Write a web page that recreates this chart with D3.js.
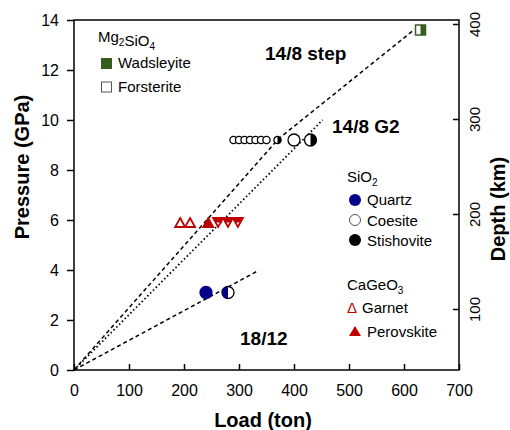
<!DOCTYPE html>
<html lang="en">
<head>
<meta charset="utf-8">
<title>pressure_load</title>
<script src="https://d3js.org/d3.v7.min.js"></script>
<style>
  body { margin: 0; background: #fff; }
  svg text { font-family: Arial, "Liberation Sans", sans-serif; fill: #000; }
  .tick text { font-size: 16px; }
  .axis-title { font-size: 20px; font-weight: bold; }
  .cell-label { font-size: 19px; font-weight: bold; }
  .legend { font-size: 15px; }
</style>
</head>
<body>
<div id="chart"></div>
<script>
// ---- data ----
var xTicks = [0, 100, 200, 300, 400, 500, 600, 700];
var yTicks = [0, 2, 4, 6, 8, 10, 12, 14];
var depthTicks = [100, 200, 300, 400];

// calibration curves [load, pressure]
var step148 = [[0, 0], [372, 9.25], [615, 13.55]];
var g2148 = [[0, 0], [452, 10.0]];
var cell1812 = [[0, 0], [333, 3.95]];

// Mg2SiO4
var wadsleyite = [[630, 13.6]];          // forsterite -> wadsleyite, half filled

// SiO2
var coesiteSmall = [[290, 9.2], [300, 9.2], [310, 9.2], [320, 9.2], [330, 9.2], [340, 9.2], [350, 9.2]];
var coeStiSmall = [[370, 9.2]];
var coesiteBig = [[400, 9.2]];
var coeStiBig = [[430, 9.2]];
var quartz = [[240, 3.1]];
var quaCoe = [[280, 3.1]];

// CaGeO3
var garnet = [[193, 5.9], [211, 5.9]];
var perovskite = [[244, 5.9]];
var garPv = [[262, 5.9], [280, 5.9], [298, 5.9]];

var W = 510, H = 430;
var svg = d3.select("#chart").append("svg").attr("width", W).attr("height", H);

var x = d3.scaleLinear().domain([0, 700]).range([74, 459]);
var y = d3.scaleLinear().domain([0, 14]).range([370, 20]);
var depth = d3.scaleLinear().domain([35.8, 404.2]).range([370, 20]);

var red = "#c00000", blue = "#00008b", green = "#375e1f";

// frame
svg.append("rect")
  .attr("x", x(0)).attr("y", y(14))
  .attr("width", x(700) - x(0)).attr("height", y(0) - y(14))
  .attr("fill", "none").attr("stroke", "#000").attr("stroke-width", 1.5);

// axes
svg.append("g")
  .attr("transform", "translate(" + x(0) + ",0)")
  .call(d3.axisLeft(y).tickValues(yTicks).tickSizeInner(7).tickSizeOuter(0).tickPadding(8))
  .call(function(g) { g.select(".domain").remove(); });

svg.append("g")
  .attr("transform", "translate(0," + y(0) + ")")
  .call(d3.axisBottom(x).tickValues(xTicks).tickSizeInner(-6).tickSizeOuter(0).tickPadding(15))
  .call(function(g) { g.select(".domain").remove(); });

var right = svg.append("g")
  .attr("transform", "translate(" + x(700) + ",0)")
  .call(d3.axisRight(depth).tickValues(depthTicks).tickSizeInner(-6).tickSizeOuter(0))
  .call(function(g) { g.select(".domain").remove(); });
right.selectAll(".tick text")
  .attr("transform", "rotate(-90)")
  .attr("x", 0).attr("y", 21).attr("dy", 0)
  .attr("text-anchor", "middle")
  .style("font-size", "15px");

svg.selectAll(".tick line").attr("stroke", "#000").attr("stroke-width", 1.5);
svg.selectAll(".tick text").attr("fill", "#000");

// axis titles
svg.append("text").attr("class", "axis-title")
  .attr("x", 263).attr("y", 427).attr("text-anchor", "middle").text("Load (ton)");
svg.append("text").attr("class", "axis-title")
  .attr("transform", "translate(29,167) rotate(-90)").attr("text-anchor", "middle").text("Pressure (GPa)");
svg.append("text").attr("class", "axis-title")
  .attr("transform", "translate(505,209) rotate(-90)").attr("text-anchor", "middle").text("Depth (km)");

// curves
var line = d3.line().x(function(d) { return x(d[0]); }).y(function(d) { return y(d[1]); });
svg.append("path").attr("d", line(step148)).attr("fill", "none")
  .attr("stroke", "#000").attr("stroke-width", 1.5).attr("stroke-dasharray", "4,3");
svg.append("path").attr("d", line(g2148)).attr("fill", "none")
  .attr("stroke", "#000").attr("stroke-width", 1.8).attr("stroke-dasharray", "1.5,2.5");
svg.append("path").attr("d", line(cell1812)).attr("fill", "none")
  .attr("stroke", "#000").attr("stroke-width", 1.5).attr("stroke-dasharray", "4,3");

svg.append("text").attr("class", "cell-label").attr("x", 265).attr("y", 60).text("14/8 step");
svg.append("text").attr("class", "cell-label").attr("x", 332).attr("y", 133).text("14/8 G2");
svg.append("text").attr("class", "cell-label").attr("x", 240).attr("y", 345).text("18/12");

// marker helpers
var halfRight = function(r) { return d3.arc().innerRadius(0).outerRadius(r).startAngle(0).endAngle(Math.PI)(); };
var halfLeft = function(r) { return d3.arc().innerRadius(0).outerRadius(r).startAngle(Math.PI).endAngle(2 * Math.PI)(); };

function circles(data, r, fill, stroke) {
  svg.append("g").selectAll("circle").data(data).enter().append("circle")
    .attr("cx", function(d) { return x(d[0]); })
    .attr("cy", function(d) { return y(d[1]); })
    .attr("r", r).attr("fill", fill).attr("stroke", stroke).attr("stroke-width", 1.3);
}
function halfCircles(data, r, fill, side, stroke) {
  var g = svg.append("g").selectAll("g").data(data).enter().append("g")
    .attr("transform", function(d) { return "translate(" + x(d[0]) + "," + y(d[1]) + ")"; });
  g.append("circle").attr("r", r).attr("fill", "#fff").attr("stroke", stroke).attr("stroke-width", 1.3);
  g.append("path").attr("d", side == "right" ? halfRight(r) : halfLeft(r)).attr("fill", fill);
}
function triangles(data, s, fill, down) {
  var h = s * 0.9;
  var p = down
    ? "M" + (-s / 2) + "," + (-h / 2) + "L" + (s / 2) + "," + (-h / 2) + "L0," + (h / 2) + "Z"
    : "M0," + (-h / 2) + "L" + (s / 2) + "," + (h / 2) + "L" + (-s / 2) + "," + (h / 2) + "Z";
  svg.append("g").selectAll("path").data(data).enter().append("path")
    .attr("transform", function(d) { return "translate(" + x(d[0]) + "," + y(d[1]) + ")"; })
    .attr("d", p).attr("fill", fill).attr("stroke", red).attr("stroke-width", 1.8)
    .attr("stroke-linejoin", "miter");
}

// Mg2SiO4
var sq = svg.append("g").selectAll("g").data(wadsleyite).enter().append("g")
  .attr("transform", function(d) { return "translate(" + x(d[0]) + "," + y(d[1]) + ")"; });
sq.append("rect").attr("x", -5).attr("y", -5).attr("width", 10).attr("height", 10)
  .attr("fill", "#fff").attr("stroke", green).attr("stroke-width", 1.5);
sq.append("rect").attr("x", 0).attr("y", -5).attr("width", 5).attr("height", 10).attr("fill", green);

// SiO2
circles(coesiteSmall, 3.6, "#fff", "#000");
halfCircles(coeStiSmall, 3.6, "#000", "right", "#000");
circles(coesiteBig, 6, "#fff", "#000");
halfCircles(coeStiBig, 6, "#000", "right", "#000");
circles(quartz, 6, blue, blue);
halfCircles(quaCoe, 6, blue, "left", "#000");

// CaGeO3
triangles(garnet, 10, "#fff", false);
triangles(perovskite, 10, red, false);
var gp = svg.append("g").selectAll("g").data(garPv).enter().append("g")
  .attr("transform", function(d) { return "translate(" + x(d[0]) + "," + y(d[1]) + ")"; });
gp.append("path").attr("d", "M-5,-4.5L5,-4.5L0,4.5Z").attr("fill", "#fff")
  .attr("stroke", red).attr("stroke-width", 1.8);
gp.append("path").attr("d", "M-5,-4.5L5,-4.5L2.5,0L-2.5,0Z").attr("fill", red);

// legends
var lg = svg.append("g").attr("class", "legend");
function chem(xp, yp, parts) {
  var t = lg.append("text").attr("x", xp).attr("y", yp);
  parts.forEach(function(p) {
    if (p[1]) {
      t.append("tspan").attr("dy", 4).style("font-size", "10px").text(p[0]);
      t.append("tspan").attr("dy", -4).text("");
    } else {
      t.append("tspan").text(p[0]);
    }
  });
}
chem(98, 42, [["Mg", 0], ["2", 1], ["SiO", 0], ["4", 1]]);
lg.append("rect").attr("x", 101).attr("y", 58).attr("width", 11).attr("height", 11).attr("fill", green);
lg.append("text").attr("x", 118).attr("y", 68).text("Wadsleyite");
lg.append("rect").attr("x", 101.5).attr("y", 82).attr("width", 10).attr("height", 10)
  .attr("fill", "#fff").attr("stroke", "#555").attr("stroke-width", 1);
lg.append("text").attr("x", 118).attr("y", 92).text("Forsterite");

chem(347, 182, [["SiO", 0], ["2", 1]]);
lg.append("circle").attr("cx", 355).attr("cy", 200).attr("r", 6).attr("fill", blue);
lg.append("text").attr("x", 367).attr("y", 205).text("Quartz");
lg.append("circle").attr("cx", 355).attr("cy", 220).attr("r", 5.5).attr("fill", "#fff").attr("stroke", "#555");
lg.append("text").attr("x", 367).attr("y", 226).text("Coesite");
lg.append("circle").attr("cx", 355).attr("cy", 240).attr("r", 6).attr("fill", "#000");
lg.append("text").attr("x", 367).attr("y", 246).text("Stishovite");

chem(347, 290, [["CaGeO", 0], ["3", 1]]);
lg.append("text").attr("x", 347).attr("y", 313).attr("fill", red).style("fill", red).text("Δ");
lg.append("text").attr("x", 362).attr("y", 313).text("Garnet");
lg.append("path").attr("d", "M355,326L361,336L349,336Z").attr("fill", red);
lg.append("text").attr("x", 367).attr("y", 337).text("Perovskite");
</script>
</body>
</html>
